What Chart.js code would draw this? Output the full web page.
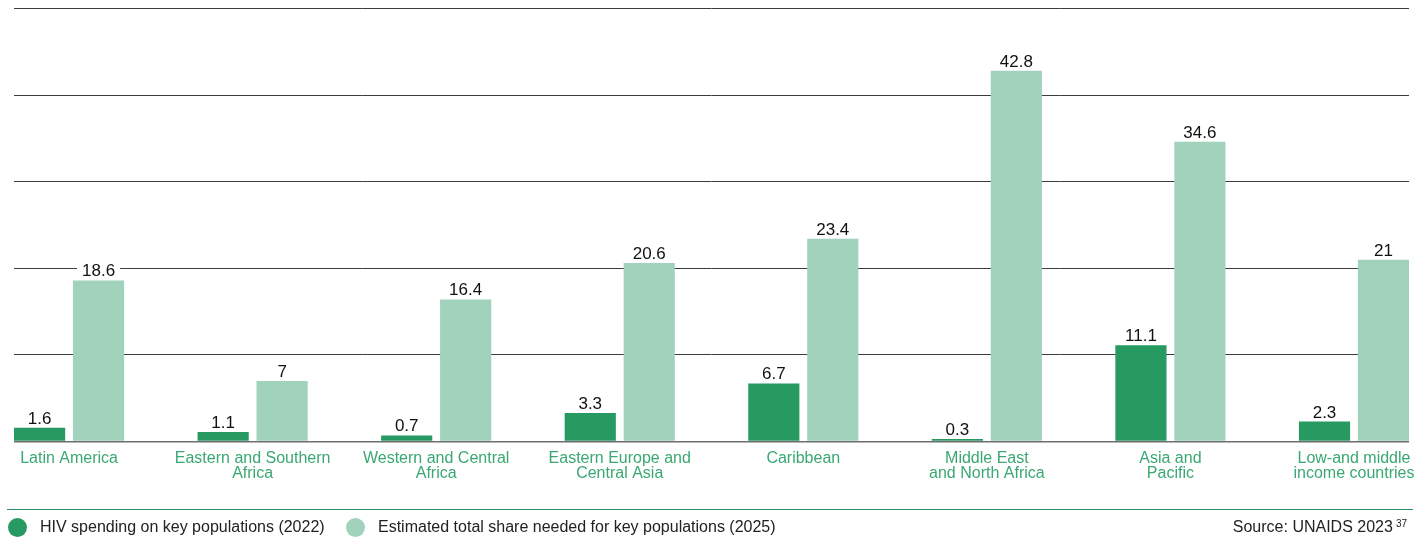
<!DOCTYPE html>
<html>
<head>
<meta charset="utf-8">
<script src="https://cdn.jsdelivr.net/npm/chart.js@4"></script>
<style>
  html, body { margin: 0; padding: 0; background: #fff; }
  #wrap { position: relative; width: 1424px; height: 542px; font-family: "Liberation Sans", Arial, sans-serif; }
  canvas { position: absolute; left: 0; top: 0; }
  .sep { position: absolute; left: 7px; width: 1406px; top: 509px; height: 1px; background: #2e8f5e; }
  .leg { position: absolute; top: 517px; height: 20px; display: flex; align-items: center; font-size: 16px; color: #222; white-space: nowrap; }
  .dot { width: 19px; height: 19px; border-radius: 50%; display: inline-block; margin-right: 13px; }
  .src { position: absolute; right: 17px; top: 517px; height: 20px; display: flex; align-items: center; font-size: 16px; color: #222; white-space: nowrap; }
  .src .sup { font-size: 10px; align-self: flex-start; margin-left: 3px; margin-top: 1px; }
</style>
</head>
<body>
<div id="wrap">
  <canvas id="c" width="1424" height="542"></canvas>
  <div class="sep"></div>
  <div class="leg" style="left:8px"><span class="dot" style="background:#279a62"></span><span id="l0"></span></div>
  <div class="leg" style="left:346px"><span class="dot" style="background:#a1d2bc"></span><span id="l1"></span></div>
  <div class="src"><span>Source: UNAIDS 2023</span><span class="sup">37</span></div>
</div>
<script>
const categories = [
  ["Latin America"],
  ["Eastern and Southern", "Africa"],
  ["Western and Central", "Africa"],
  ["Eastern Europe and", "Central Asia"],
  ["Caribbean"],
  ["Middle East", "and North Africa"],
  ["Asia and", "Pacific"],
  ["Low-and middle", "income countries"]
];
const seriesNames = [
  "HIV spending on key populations (2022)",
  "Estimated total share needed for key populations (2025)"
];
const spending2022 = [1.6, 1.1, 0.7, 3.3, 6.7, 0.3, 11.1, 2.3];
const needed2025 = [18.6, 7, 16.4, 20.6, 23.4, 42.8, 34.6, 21];
const yTicks = [0, 10, 20, 30, 40, 50];

document.getElementById('l0').textContent = seriesNames[0];
document.getElementById('l1').textContent = seriesNames[1];

const toPoints = arr => arr.map((v, i) => ({ x: i, y: v }));

const labelPlugin = {
  id: 'valueLabels',
  afterDatasetsDraw(chart) {
    const ctx = chart.ctx;
    ctx.save();
    ctx.font = '17px "Liberation Sans", Arial, sans-serif';
    ctx.textAlign = 'center';
    ctx.textBaseline = 'alphabetic';
    chart.data.datasets.forEach((ds, di) => {
      const meta = chart.getDatasetMeta(di);
      meta.data.forEach((el, i) => {
        const txt = String(ds.data[i].y);
        const w = ctx.measureText(txt).width;
        const base = el.y - 4;
        ctx.fillStyle = '#ffffff';
        ctx.fillRect(el.x - w / 2 - 5, base - 15, w + 10, 16);
        ctx.fillStyle = '#111111';
        ctx.fillText(txt, el.x, base);
      });
    });
    ctx.restore();
  }
};

new Chart(document.getElementById('c'), {
  type: 'bar',
  data: {
    datasets: [
      { label: seriesNames[0], data: toPoints(spending2022), backgroundColor: '#279a62' },
      { label: seriesNames[1], data: toPoints(needed2025), backgroundColor: '#a1d2bc' }
    ]
  },
  options: {
    responsive: false,
    animation: false,
    events: [],
    categoryPercentage: 0.6424,
    barPercentage: 0.868,
    layout: { padding: { left: 14, right: 14, top: 8.5, bottom: 0 } },
    plugins: { legend: { display: false }, tooltip: { enabled: false } },
    scales: {
      x: {
        type: 'linear',
        offset: false,
        min: -0.3,
        max: 7.3,
        grid: { display: false, drawTicks: false, offset: false },
        border: { display: false },
        afterFit(scale) { scale.height = 100.5; },
        ticks: {
          stepSize: 1,
          includeBounds: false,
          autoSkip: false,
          maxRotation: 0,
          padding: 9,
          color: '#3aa872',
          font: { family: '"Liberation Sans", Arial, sans-serif', size: 16, lineHeight: 0.98 },
          callback: v => categories[v]
        }
      },
      y: {
        min: yTicks[0],
        max: yTicks[yTicks.length - 1],
        afterBuildTicks(scale) { scale.ticks = yTicks.map(v => ({ value: v })); },
        afterFit(scale) { scale.width = 0; },
        ticks: { display: false },
        border: { display: false },
        grid: {
          drawTicks: false,
          color: c => c.tick && c.tick.value === 0 ? '#6e6e6e' : '#3c3c3c',
          lineWidth: c => c.tick && c.tick.value === 0 ? 1.5 : 1
        }
      }
    }
  },
  plugins: [labelPlugin]
});
</script>
</body>
</html>
